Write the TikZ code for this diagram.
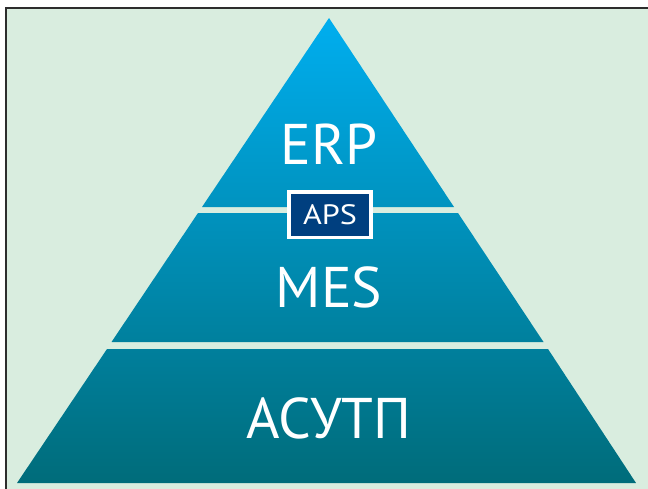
\documentclass[tikz,border=0pt]{standalone}
\usepackage{fontspec}
\setmainfont{PT Sans}
\newfontfamily\apsfont[FakeStretch=1.15]{PT Sans}
\definecolor{bgGreen}{RGB}{217,237,223}
\definecolor{frameGrey}{RGB}{45,45,45}
\definecolor{apsBlue}{RGB}{0,63,127}
\definecolor{tierTopA}{RGB}{0,174,239}
\definecolor{tierTopB}{RGB}{0,147,191}
\definecolor{tierMidA}{RGB}{0,146,190}
\definecolor{tierMidB}{RGB}{0,128,157}
\definecolor{tierLowA}{RGB}{0,127,156}
\definecolor{tierLowB}{RGB}{0,108,122}

\tikzset{every picture/.style={line width=0.75pt}}
\tikzset{
  tierlabel/.style={text=white, font=\fontsize{43}{43}\selectfont, inner sep=0pt},
  apsbox/.style={draw=white, line width=2.5pt, fill=apsBlue, text=white,
    font=\apsfont\fontsize{21}{21}\selectfont, minimum width=61.5pt, minimum height=34pt, inner sep=0pt}
}

\begin{document}
\begin{tikzpicture}[x=0.75pt,y=0.75pt,yscale=-1,xscale=1]
	\useasboundingbox (0,0) rectangle (648,488);

	%Shape: Rectangle [id:frame]
	\draw [frameGrey, line width=1.5, fill=bgGreen] (5.5,8.5) rectangle (680,520);

	%Shape: Triangle [id:tierTop]
	\shade [top color=tierTopA, bottom color=tierTopB] (329,18) -- (454,207) -- (202,207) -- cycle;
	%Shape: Trapezoid [id:tierMid]
	\shade [top color=tierMidA, bottom color=tierMidB] (198,213) -- (458,213) -- (543.5,342) -- (111.5,342) -- cycle;
	%Shape: Trapezoid [id:tierLow]
	\shade [top color=tierLowA, bottom color=tierLowB] (107,349) -- (548,349) -- (636,483) -- (17,483) -- cycle;

	% Text Node
	\node [tierlabel] (erp) at (329,144) {ERP};
	% Text Node
	\node [tierlabel] (mes) at (329,287) {MES};
	% Text Node
	\node [tierlabel] (asutp) at (329,418) {АСУТП};
	% Text Node
	\node [apsbox] (aps) at (330,214.5) {APS};

\end{tikzpicture}
\end{document}
